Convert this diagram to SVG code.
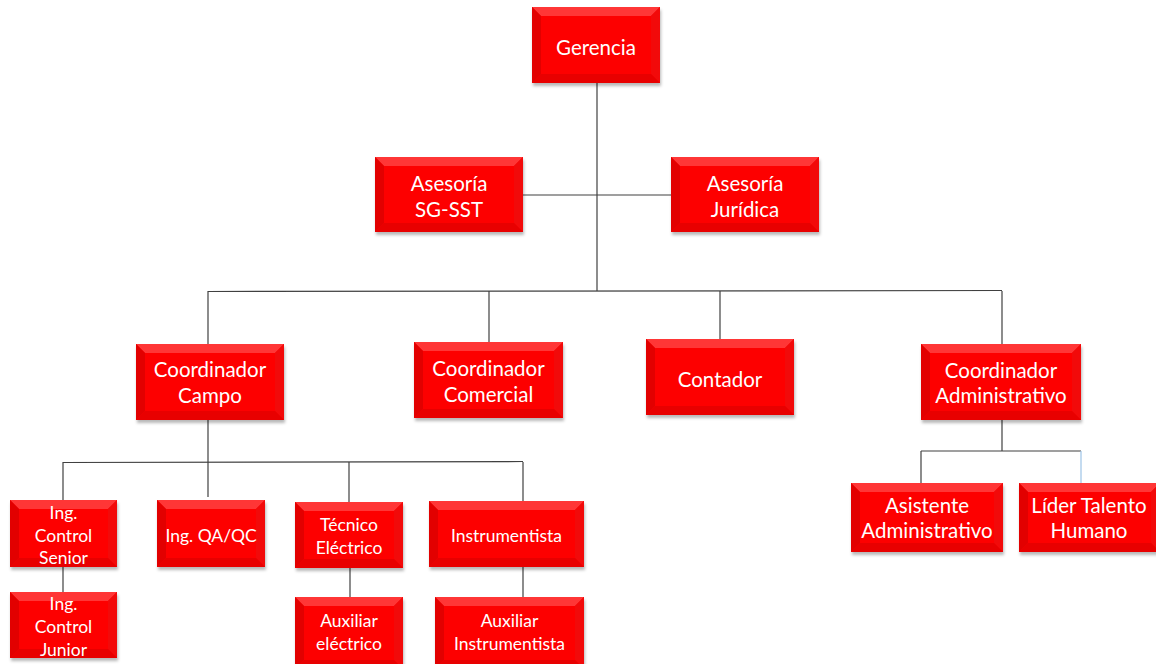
<svg xmlns="http://www.w3.org/2000/svg" width="1156" height="664" viewBox="0 0 1156 664">
<defs>
<filter id="sh" x="-10%" y="-10%" width="125%" height="130%">
<feDropShadow dx="1" dy="3" stdDeviation="1.5" flood-color="#000" flood-opacity="0.28"/>
</filter>
</defs>
<style>
.base{fill:#f80000;filter:url(#sh)}
.bt{fill:#ff3636}
.bl{fill:#e20000}
.br{fill:#f20a0a}
.bb{fill:#e80000}
.ln{stroke:#404040;stroke-width:1.2;fill:none}
text{font-family:Lato,"Open Sans","Liberation Sans",sans-serif;fill:#ffffff;text-anchor:middle;dominant-baseline:central}
.t1{font-size:20.5px}
.t2{font-size:17.5px}
</style>
<rect width="1156" height="664" fill="#ffffff"/>
<g id="connectors">
<line class="ln" x1="597" y1="83" x2="597" y2="291"/>
<line class="ln" x1="523" y1="195" x2="671" y2="195"/>
<line class="ln" x1="208" y1="291.5" x2="1002" y2="290.5"/>
<line class="ln" x1="208" y1="291" x2="208" y2="344"/>
<line class="ln" x1="489" y1="291" x2="489" y2="342"/>
<line class="ln" x1="720" y1="291" x2="720" y2="339"/>
<line class="ln" x1="1002" y1="291" x2="1002" y2="344"/>
<line class="ln" x1="208" y1="420" x2="208" y2="497"/>
<line class="ln" x1="63" y1="462.5" x2="523" y2="461.5"/>
<line class="ln" x1="63" y1="462" x2="63" y2="500"/>
<line class="ln" x1="349" y1="462" x2="349" y2="502"/>
<line class="ln" x1="523" y1="462" x2="523" y2="501"/>
<line class="ln" x1="63" y1="567" x2="63" y2="592"/>
<line class="ln" x1="350" y1="568" x2="350" y2="597"/>
<line class="ln" x1="523" y1="567" x2="523" y2="597"/>
<line class="ln" x1="1002" y1="420" x2="1002" y2="451"/>
<line class="ln" x1="921" y1="451" x2="1081" y2="451"/>
<line class="ln" x1="921" y1="451" x2="921" y2="483"/>
<line x1="1081" y1="451" x2="1081" y2="483" stroke="#9dc3e6" stroke-width="1.2"/>
</g>
<g id="gerencia" transform="translate(532,7)">
<rect class="base" width="128" height="76"/>
<polygon class="bt" points="0,0 128,0 119,9 9,9"/><polygon class="bl" points="0,0 9,9 9,67 0,76"/><polygon class="br" points="128,0 128,76 119,67 119,9"/><polygon class="bb" points="0,76 9,67 119,67 128,76"/>
<rect x="9" y="9" width="110" height="58" fill="#fd0000"/>
<text class="t1" x="64" y="40">Gerencia</text>
</g>
<g id="asesoria-sgsst" transform="translate(375,157)">
<rect class="base" width="148" height="75"/>
<polygon class="bt" points="0,0 148,0 139,9 9,9"/><polygon class="bl" points="0,0 9,9 9,66 0,75"/><polygon class="br" points="148,0 148,75 139,66 139,9"/><polygon class="bb" points="0,75 9,66 139,66 148,75"/>
<rect x="9" y="9" width="130" height="57" fill="#fd0000"/>
<text class="t1" x="74" y="26">Asesoría</text>
<text class="t1" x="74" y="52">SG-SST</text>
</g>
<g id="asesoria-juridica" transform="translate(671,157)">
<rect class="base" width="148" height="75"/>
<polygon class="bt" points="0,0 148,0 139,9 9,9"/><polygon class="bl" points="0,0 9,9 9,66 0,75"/><polygon class="br" points="148,0 148,75 139,66 139,9"/><polygon class="bb" points="0,75 9,66 139,66 148,75"/>
<rect x="9" y="9" width="130" height="57" fill="#fd0000"/>
<text class="t1" x="74" y="26">Asesoría</text>
<text class="t1" x="74" y="52">Jurídica</text>
</g>
<g id="coord-campo" transform="translate(136,344)">
<rect class="base" width="148" height="76"/>
<polygon class="bt" points="0,0 148,0 139,9 9,9"/><polygon class="bl" points="0,0 9,9 9,67 0,76"/><polygon class="br" points="148,0 148,76 139,67 139,9"/><polygon class="bb" points="0,76 9,67 139,67 148,76"/>
<rect x="9" y="9" width="130" height="58" fill="#fd0000"/>
<text class="t1" x="74" y="25">Coordinador</text>
<text class="t1" x="74" y="51">Campo</text>
</g>
<g id="coord-comercial" transform="translate(414,342)">
<rect class="base" width="149" height="76"/>
<polygon class="bt" points="0,0 149,0 140,9 9,9"/><polygon class="bl" points="0,0 9,9 9,67 0,76"/><polygon class="br" points="149,0 149,76 140,67 140,9"/><polygon class="bb" points="0,76 9,67 140,67 149,76"/>
<rect x="9" y="9" width="131" height="58" fill="#fd0000"/>
<text class="t1" x="74.5" y="26">Coordinador</text>
<text class="t1" x="74.5" y="52">Comercial</text>
</g>
<g id="contador" transform="translate(646,339)">
<rect class="base" width="148" height="76"/>
<polygon class="bt" points="0,0 148,0 139,9 9,9"/><polygon class="bl" points="0,0 9,9 9,67 0,76"/><polygon class="br" points="148,0 148,76 139,67 139,9"/><polygon class="bb" points="0,76 9,67 139,67 148,76"/>
<rect x="9" y="9" width="130" height="58" fill="#fd0000"/>
<text class="t1" x="74" y="40">Contador</text>
</g>
<g id="coord-administrativo" transform="translate(921,344)">
<rect class="base" width="160" height="76"/>
<polygon class="bt" points="0,0 160,0 151,9 9,9"/><polygon class="bl" points="0,0 9,9 9,67 0,76"/><polygon class="br" points="160,0 160,76 151,67 151,9"/><polygon class="bb" points="0,76 9,67 151,67 160,76"/>
<rect x="9" y="9" width="142" height="58" fill="#fd0000"/>
<text class="t1" x="80" y="26">Coordinador</text>
<text class="t1" x="80" y="51">Administrativo</text>
</g>
<g id="asistente-administrativo" transform="translate(851,483)">
<rect class="base" width="152" height="69"/>
<polygon class="bt" points="0,0 152,0 143,9 9,9"/><polygon class="bl" points="0,0 9,9 9,60 0,69"/><polygon class="br" points="152,0 152,69 143,60 143,9"/><polygon class="bb" points="0,69 9,60 143,60 152,69"/>
<rect x="9" y="9" width="134" height="51" fill="#fd0000"/>
<text class="t1" x="76" y="22">Asistente</text>
<text class="t1" x="76" y="47">Administrativo</text>
</g>
<g id="lider-talento-humano" transform="translate(1019,483)">
<rect class="base" width="141" height="69"/>
<polygon class="bt" points="0,0 141,0 132,9 9,9"/><polygon class="bl" points="0,0 9,9 9,60 0,69"/><polygon class="br" points="141,0 141,69 132,60 132,9"/><polygon class="bb" points="0,69 9,60 132,60 141,69"/>
<rect x="9" y="9" width="123" height="51" fill="#fd0000"/>
<text class="t1" x="70" y="22">Líder Talento</text>
<text class="t1" x="70" y="47">Humano</text>
</g>
<g id="ing-control-senior" transform="translate(10,500)">
<rect class="base" width="107" height="67"/>
<polygon class="bt" points="0,0 107,0 98,9 9,9"/><polygon class="bl" points="0,0 9,9 9,58 0,67"/><polygon class="br" points="107,0 107,67 98,58 98,9"/><polygon class="bb" points="0,67 9,58 98,58 107,67"/>
<rect x="9" y="9" width="89" height="49" fill="#fd0000"/>
<text class="t2" x="53.5" y="12">Ing.</text>
<text class="t2" x="53.5" y="35">Control</text>
<text class="t2" x="53.5" y="57">Senior</text>
</g>
<g id="ing-qa-qc" transform="translate(157,500)">
<rect class="base" width="108" height="67"/>
<polygon class="bt" points="0,0 108,0 99,9 9,9"/><polygon class="bl" points="0,0 9,9 9,58 0,67"/><polygon class="br" points="108,0 108,67 99,58 99,9"/><polygon class="bb" points="0,67 9,58 99,58 108,67"/>
<rect x="9" y="9" width="90" height="49" fill="#fd0000"/>
<text class="t2" x="54" y="35">Ing. QA/QC</text>
</g>
<g id="tecnico-electrico" transform="translate(295,502)">
<rect class="base" width="108" height="66"/>
<polygon class="bt" points="0,0 108,0 99,9 9,9"/><polygon class="bl" points="0,0 9,9 9,57 0,66"/><polygon class="br" points="108,0 108,66 99,57 99,9"/><polygon class="bb" points="0,66 9,57 99,57 108,66"/>
<rect x="9" y="9" width="90" height="48" fill="#fd0000"/>
<text class="t2" x="54" y="22">Técnico</text>
<text class="t2" x="54" y="45">Eléctrico</text>
</g>
<g id="instrumentista" transform="translate(429,501)">
<rect class="base" width="155" height="66"/>
<polygon class="bt" points="0,0 155,0 146,9 9,9"/><polygon class="bl" points="0,0 9,9 9,57 0,66"/><polygon class="br" points="155,0 155,66 146,57 146,9"/><polygon class="bb" points="0,66 9,57 146,57 155,66"/>
<rect x="9" y="9" width="137" height="48" fill="#fd0000"/>
<text class="t2" x="77.5" y="34">Instrumentista</text>
</g>
<g id="ing-control-junior" transform="translate(10,592)">
<rect class="base" width="107" height="66"/>
<polygon class="bt" points="0,0 107,0 98,9 9,9"/><polygon class="bl" points="0,0 9,9 9,57 0,66"/><polygon class="br" points="107,0 107,66 98,57 98,9"/><polygon class="bb" points="0,66 9,57 98,57 107,66"/>
<rect x="9" y="9" width="89" height="48" fill="#fd0000"/>
<text class="t2" x="53.5" y="11">Ing.</text>
<text class="t2" x="53.5" y="34">Control</text>
<text class="t2" x="53.5" y="57">Junior</text>
</g>
<g id="auxiliar-electrico" transform="translate(295,597)">
<rect class="base" width="108" height="72"/>
<polygon class="bt" points="0,0 108,0 99,9 9,9"/><polygon class="bl" points="0,0 9,9 9,63 0,72"/><polygon class="br" points="108,0 108,72 99,63 99,9"/><polygon class="bb" points="0,72 9,63 99,63 108,72"/>
<rect x="9" y="9" width="90" height="54" fill="#fd0000"/>
<text class="t2" x="54" y="23">Auxiliar</text>
<text class="t2" x="54" y="46">eléctrico</text>
</g>
<g id="auxiliar-instrumentista" transform="translate(435,597)">
<rect class="base" width="149" height="72"/>
<polygon class="bt" points="0,0 149,0 140,9 9,9"/><polygon class="bl" points="0,0 9,9 9,63 0,72"/><polygon class="br" points="149,0 149,72 140,63 140,9"/><polygon class="bb" points="0,72 9,63 140,63 149,72"/>
<rect x="9" y="9" width="131" height="54" fill="#fd0000"/>
<text class="t2" x="74.5" y="23">Auxiliar</text>
<text class="t2" x="74.5" y="46">Instrumentista</text>
</g>
</svg>
